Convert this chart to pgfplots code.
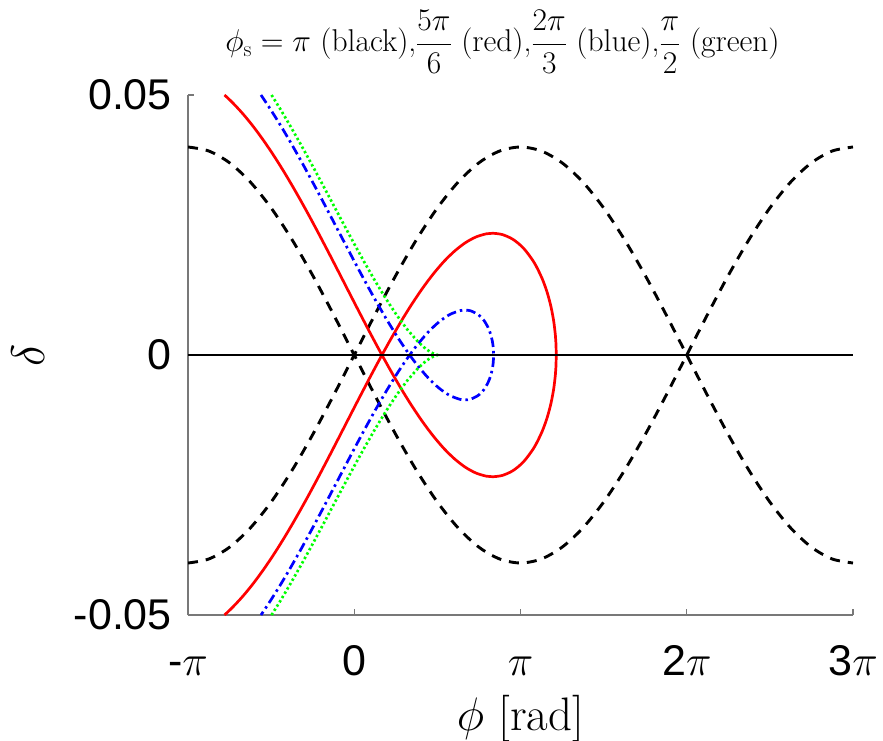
\RequirePackage{fix-cm}
\documentclass[border=0pt]{standalone}
\usepackage{amsmath}
\usepackage{fontspec}
\newfontfamily\helv{Liberation Sans}
\usepackage{pgfplots}
\usepackage{pgfplotstable}
\pgfplotsset{compat=1.18}

\definecolor{axgray}{RGB}{120,120,120}
\definecolor{mred}{RGB}{255,0,0}
\definecolor{mblue}{RGB}{0,0,255}
\definecolor{mgreen}{RGB}{0,255,0}

% phi_s = pi : stationary bucket, two branches
\pgfplotstableread{
phi up dn
-3.14159 -0.04000 0.04000
-2.74889 -0.03923 0.03923
-2.35619 -0.03696 0.03696
-1.96350 -0.03326 0.03326
-1.57080 -0.02828 0.02828
-1.17810 -0.02222 0.02222
-0.78540 -0.01531 0.01531
-0.39270 -0.00780 0.00780
0.00000 0.00000 0.00000
0.39270 0.00780 -0.00780
0.78540 0.01531 -0.01531
1.17810 0.02222 -0.02222
1.57080 0.02828 -0.02828
1.96350 0.03326 -0.03326
2.35619 0.03696 -0.03696
2.74889 0.03923 -0.03923
3.14159 0.04000 -0.04000
3.53429 0.03923 -0.03923
3.92699 0.03696 -0.03696
4.31969 0.03326 -0.03326
4.71239 0.02828 -0.02828
5.10509 0.02222 -0.02222
5.49779 0.01531 -0.01531
5.89049 0.00780 -0.00780
6.28319 0.00000 0.00000
6.67588 -0.00780 0.00780
7.06858 -0.01531 0.01531
7.46128 -0.02222 0.02222
7.85398 -0.02828 0.02828
8.24668 -0.03326 0.03326
8.63938 -0.03696 0.03696
9.03208 -0.03923 0.03923
9.42478 -0.04000 0.04000
}\blackdata

\begin{document}
\begin{tikzpicture}
\useasboundingbox (0,0) rectangle (883pt,740pt);
\begin{axis}[
  at={(188pt,125pt)}, anchor=south west,
  scale only axis, width=665pt, height=520pt,
  xmin=-3.14159, xmax=9.42478, ymin=-0.05, ymax=0.05,
  scaled y ticks=false,
  axis x line*=bottom, axis y line*=left,
  axis line style={-, axgray, line width=1.6pt},
  tick align=inside, major tick length=6pt,
  tick style={axgray, line width=1.2pt},
  xtick={-3.14159,0,3.14159,6.28319,9.42478},
  xticklabels={{\helv -}$\pi$,{\helv 0},$\pi$,{\helv 2}$\pi$,{\helv 3}$\pi$},
  ytick={-0.05,0,0.05},
  yticklabels={{\helv -0.05},{\helv 0},{\helv 0.05}},
  ticklabel style={font=\fontsize{43}{50}\selectfont, inner sep=0pt},
  xticklabel style={anchor=base, yshift=-60pt},
  yticklabel style={anchor=east, xshift=-16pt},
  title={$\phi_{\mathrm{s}} = \pi$ (black),$\dfrac{5\pi}{6}$ (red),$\dfrac{2\pi}{3}$ (blue),$\dfrac{\pi}{2}$ (green)},
  title style={at={(axis description cs:0.473,1)}, anchor=base, yshift=37pt, inner sep=0pt, font=\fontsize{31.5}{38}\selectfont},
  xlabel={$\phi$ [rad]},
  xlabel style={at={(axis description cs:0.5,0)}, anchor=base, yshift=-115pt, inner sep=0pt, font=\fontsize{47}{56}\selectfont},
  ylabel={$\delta$},
  ylabel style={at={(axis description cs:0,0.5)}, anchor=center, yshift=160pt, inner sep=0pt, font=\fontsize{47}{56}\selectfont},
  clip=true,
]
% phi_s = pi
\addplot[black, line width=2.9pt, dash pattern=on 10pt off 8pt, smooth] table[x=phi, y=up] {\blackdata};
\addplot[black, line width=2.9pt, dash pattern=on 10pt off 8pt, smooth] table[x=phi, y=dn] {\blackdata};

% phi_s = 5pi/6
\addplot[mred, line width=2.7pt, smooth] coordinates {
 (-2.452,0.05000) (-2.3,0.04853) (-2.1,0.04633) (-1.9,0.04383) (-1.7,0.04105)
 (-1.5,0.03802) (-1.3,0.03476) (-1.1,0.03129) (-0.9,0.02766) (-0.7,0.02388)
 (-0.5,0.02000) (-0.3,0.01606) (-0.1,0.01209) (0.1,0.00814) (0.3,0.00424)
 (0.4,0.00233) (0.5236,0)
 (0.7,-0.00322) (0.9,-0.00671) (1.1,-0.00997) (1.3,-0.01297) (1.5,-0.01567)
 (1.7,-0.01804) (1.9,-0.02002) (2.1,-0.02159) (2.3,-0.02270) (2.5,-0.02331)
 (2.618,-0.02341) (2.8,-0.02315) (3.0,-0.02223) (3.2,-0.02052) (3.4,-0.01777)
 (3.55,-0.01471) (3.65,-0.01188) (3.72,-0.00917) (3.77,-0.00644) (3.80,-0.00388)
 (3.81,-0.00247) (3.8168,0)
 (3.81,0.00247) (3.80,0.00388) (3.77,0.00644) (3.72,0.00917) (3.65,0.01188)
 (3.55,0.01471) (3.4,0.01777) (3.2,0.02052) (3.0,0.02223) (2.8,0.02315)
 (2.618,0.02341) (2.5,0.02331) (2.3,0.02270) (2.1,0.02159) (1.9,0.02002)
 (1.7,0.01804) (1.5,0.01567) (1.3,0.01297) (1.1,0.00997) (0.9,0.00671)
 (0.7,0.00322) (0.5236,0)
 (0.4,-0.00233) (0.3,-0.00424) (0.1,-0.00814) (-0.1,-0.01209) (-0.3,-0.01606)
 (-0.5,-0.02000) (-0.7,-0.02388) (-0.9,-0.02766) (-1.1,-0.03129) (-1.3,-0.03476)
 (-1.5,-0.03802) (-1.7,-0.04105) (-1.9,-0.04383) (-2.1,-0.04633) (-2.3,-0.04853)
 (-2.452,-0.05000)
};

% phi_s = 2pi/3
\addplot[mblue, line width=2.7pt, dash pattern=on 9.5pt off 4pt on 2.5pt off 4pt, smooth] coordinates {
 (-1.763,0.05000) (-1.6,0.04751) (-1.4,0.04427) (-1.2,0.04083) (-1.0,0.03723)
 (-0.8,0.03350) (-0.6,0.02968) (-0.4,0.02580) (-0.2,0.02191) (0,0.01804)
 (0.2,0.01424) (0.4,0.01056) (0.6,0.00704) (0.8,0.00373) (0.9,0.00217)
 (1.0472,0)
 (1.2,-0.00206) (1.4,-0.00443) (1.6,-0.00635) (1.8,-0.00776) (2.0,-0.00853)
 (2.0944,-0.00863) (2.2,-0.00849) (2.35,-0.00772) (2.45,-0.00666) (2.53,-0.00526)
 (2.58,-0.00390) (2.61,-0.00262) (2.625,-0.00157) (2.6332,0)
 (2.625,0.00157) (2.61,0.00262) (2.58,0.00390) (2.53,0.00526) (2.45,0.00666)
 (2.35,0.00772) (2.2,0.00849) (2.0944,0.00863) (2.0,0.00853) (1.8,0.00776)
 (1.6,0.00635) (1.4,0.00443) (1.2,0.00206) (1.0472,0)
 (0.9,-0.00217) (0.8,-0.00373) (0.6,-0.00704) (0.4,-0.01056) (0.2,-0.01424)
 (0,-0.01804) (-0.2,-0.02191) (-0.4,-0.02580) (-0.6,-0.02968) (-0.8,-0.03350)
 (-1.0,-0.03723) (-1.2,-0.04083) (-1.4,-0.04427) (-1.6,-0.04751) (-1.763,-0.05000)
};

% phi_s = pi/2
\addplot[mgreen, line width=2.7pt, dash pattern=on 2.4pt off 2.6pt] coordinates {
 (-1.563,0.05000) (-1.4,0.04734) (-1.2,0.04389) (-1.0,0.04030) (-0.8,0.03660)
 (-0.6,0.03281) (-0.4,0.02898) (-0.2,0.02515) (0,0.02137) (0.2,0.01768)
 (0.4,0.01413) (0.6,0.01079) (0.8,0.00770) (1.0,0.00494) (1.2,0.00260)
 (1.35,0.00120) (1.45,0.00049) (1.5708,0)
 (1.45,-0.00049) (1.35,-0.00120) (1.2,-0.00260) (1.0,-0.00494) (0.8,-0.00770)
 (0.6,-0.01079) (0.4,-0.01413) (0.2,-0.01768) (0,-0.02137) (-0.2,-0.02515)
 (-0.4,-0.02898) (-0.6,-0.03281) (-0.8,-0.03660) (-1.0,-0.04030) (-1.2,-0.04389)
 (-1.4,-0.04734) (-1.563,-0.05000)
};

% delta = 0
\addplot[black, line width=2.8pt] coordinates {(-3.14159,0) (9.42478,0)};
\end{axis}
\end{tikzpicture}
\end{document}
